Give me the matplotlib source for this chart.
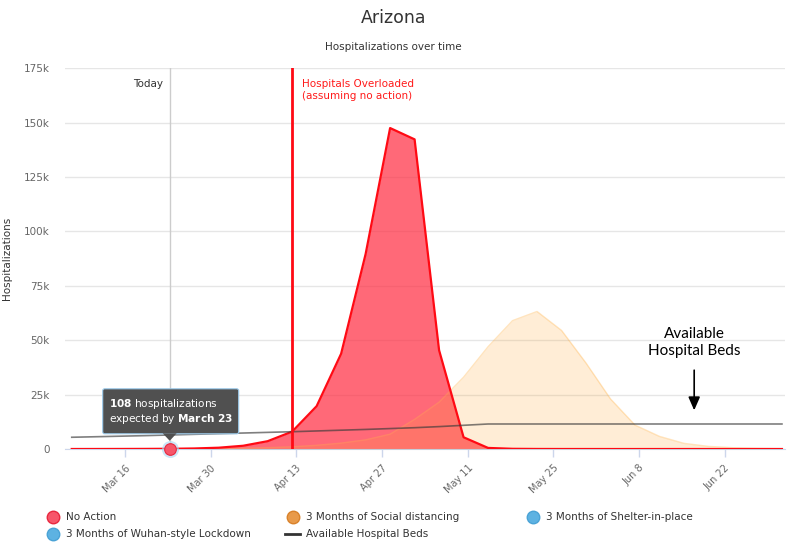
"""Arizona hospitalizations over time: scenario areas, hospital beds line, annotations."""
import matplotlib
matplotlib.use("Agg")
import matplotlib.pyplot as plt
import matplotlib.dates as mdates
import matplotlib.transforms as mtransforms
from matplotlib.patches import FancyBboxPatch, Polygon
from matplotlib.lines import Line2D
import pandas as pd

# --- Data (one point every 4 days) ---
dates = pd.date_range("2020-03-07 08:00", periods=30, freq="4D")

no_action = [10, 20, 35, 60, 108, 250, 600, 1500, 3600, 8000,
             19700, 43800, 89600, 147500, 142300, 45400, 5400, 500, 100, 30,
             10, 5, 0, 0, 0, 0, 0, 0, 0, 0]
social_distancing = [5, 10, 20, 40, 70, 120, 200, 350, 600, 1000,
                     1700, 2700, 4200, 6800, 13600, 21500, 33000, 47000, 59000, 63200,
                     54500, 39500, 23000, 11000, 5800, 2600, 1200, 600, 300, 150]
shelter_in_place = [5, 10, 20, 35, 60, 90, 120, 150, 170, 180,
                    180, 170, 160, 150, 140, 130, 120, 110, 100, 95,
                    90, 90, 95, 100, 110, 120, 140, 160, 190, 230]
wuhan_lockdown = [5, 10, 20, 35, 55, 75, 90, 100, 100, 95,
                  85, 75, 65, 55, 45, 40, 35, 30, 25, 20,
                  20, 20, 20, 25, 25, 30, 35, 40, 45, 50]
hospital_beds = [5400, 5650, 5900, 6150, 6450, 6750, 7050, 7350, 7650, 7950,
                 8300, 8650, 9000, 9400, 9800, 10300, 10900, 11500, 11500, 11500,
                 11500, 11500, 11500, 11500, 11500, 11500, 11500, 11500, 11500, 11500]

today = pd.Timestamp("2020-03-23 08:00")
overloaded = pd.Timestamp("2020-04-12 08:00")
tick_dates = pd.date_range("2020-03-16", "2020-06-22", freq="14D")
y_ticks = [0, 25000, 50000, 75000, 100000, 125000, 150000, 175000]
y_labels = ["0", "25k", "50k", "75k", "100k", "125k", "150k", "175k"]

legend_items = [
    ("No Action", "#f7566a", "#e8283f", "o"),
    ("3 Months of Social distancing", "#e89a4a", "#d9822b", "o"),
    ("3 Months of Shelter-in-place", "#5db2e2", "#4aa3d6", "o"),
    ("3 Months of Wuhan-style Lockdown", "#5db2e2", "#4aa3d6", "o"),
    ("Available Hospital Beds", "#333333", "#333333", "line"),
]

plt.rcParams["font.family"] = ["DejaVu Sans"]

fig = plt.figure(figsize=(8, 5.5), dpi=100)
ax = fig.add_axes([0.081, 0.1836, 0.9, 0.6924])

# Areas
ax.fill_between(dates, no_action, color="#ff2a3f", alpha=0.7, lw=0, zorder=2)
ax.fill_between(dates, social_distancing, color="#ffa532", alpha=0.2, lw=0, zorder=3)
ax.plot(dates, social_distancing, color="#ffb347", alpha=0.35, lw=1, zorder=3)
ax.fill_between(dates, shelter_in_place, color="#7cc4ee", alpha=0.3, lw=0, zorder=3)
ax.fill_between(dates, wuhan_lockdown, color="#7cc4ee", alpha=0.3, lw=0, zorder=3)
ax.plot(dates, no_action, color="#ff0a14", lw=1.6, zorder=4)

# Beds line
ax.plot(dates, hospital_beds, color="#3a3a3a", alpha=0.65, lw=1.2, zorder=5)

# Vertical markers
ax.axvline(today, color="#cccccc", lw=1, zorder=1)
ax.axvline(overloaded, color="#ff0a14", lw=2, zorder=6)
ax.annotate("Today", (today, 175000), xytext=(-5, -8), textcoords="offset points",
            ha="right", va="top", fontsize=7.5, color="#333333")
ax.annotate("Hospitals Overloaded\n(assuming no action)", (overloaded, 175000),
            xytext=(7, -8), textcoords="offset points", ha="left", va="top",
            fontsize=7.5, color="#ff1a1a", linespacing=1.25)

# Axes styling
ax.set_xlim(pd.Timestamp("2020-03-16") - pd.Timedelta(days=9.8),
            pd.Timestamp("2020-03-16") + pd.Timedelta(days=107.8))
ax.set_ylim(0, 175000)
ax.set_yticks(y_ticks)
ax.set_yticklabels(y_labels)
ax.set_xticks(tick_dates)
ax.xaxis.set_major_formatter(mdates.DateFormatter("%b %-d"))
for lab in ax.get_xticklabels():
    lab.set_rotation(45)
    lab.set_ha("right")
    lab.set_rotation_mode("anchor")
ax.tick_params(axis="x", colors="#ccd6eb", length=6, width=1, labelsize=7, labelcolor="#666666", pad=4)
ax.tick_params(axis="y", length=0, labelsize=7.5, labelcolor="#666666", pad=11)
ax.grid(axis="y", color="#e6e6e6", lw=1)
ax.set_axisbelow(True)
for side in ["top", "right", "left"]:
    ax.spines[side].set_visible(False)
ax.spines["bottom"].set_color("#ccd6eb")
ax.set_ylabel("Hospitalizations", fontsize=7.5, color="#333333", labelpad=8)

# Highlighted point at Mar 23
ax.scatter([dates[4]], [no_action[4]], s=150, color="#a9d6f2", alpha=0.6, lw=0, zorder=7, clip_on=False)
ax.scatter([dates[4]], [no_action[4]], s=70, color="#f7566a", edgecolor="#e8283f", lw=0.8,
           zorder=8, clip_on=False)

# Tooltip box anchored to the point (pixel offsets)
fig.canvas.draw()
px, py = ax.transData.transform((mdates.date2num(dates[4]), no_action[4]))
off = mtransforms.Affine2D().translate(px, py)
box = FancyBboxPatch((-67, 15), 136, 45, boxstyle="round,pad=0,rounding_size=2",
                     transform=off, facecolor="#505050", edgecolor="#9ccbec", lw=0.8,
                     zorder=9, clip_on=False)
fig.add_artist(box)
fig.add_artist(Polygon([(-7, 15.5), (7, 15.5), (0, 8)], closed=True, transform=off,
                       facecolor="#505050", edgecolor="none", zorder=10))
t1 = fig.text(px - 61, py + 45, r"$\mathbf{108}$ hospitalizations", color="white", fontsize=7.6,
              va="center", ha="left", zorder=11)
t2 = fig.text(px - 61, py + 30, r"expected by $\mathbf{March\ 23}$", color="white", fontsize=7.6,
              va="center", ha="left", zorder=11)
t1.set_transform(mtransforms.IdentityTransform())
t2.set_transform(mtransforms.IdentityTransform())

# Available beds callout
ax.annotate("", xy=(pd.Timestamp("2020-06-17"), 16500), xytext=(pd.Timestamp("2020-06-17"), 37500),
            arrowprops=dict(arrowstyle="-|>,head_width=0.35,head_length=0.8", color="black", lw=1.2),
            zorder=9)
ax.text(pd.Timestamp("2020-06-17"), 49000, "Available\nHospital Beds", ha="center", va="center",
        fontsize=11, family=["Lato", "DejaVu Sans"], color="black", linespacing=1.3)

# Titles
fig.text(0.492, 0.967, "Arizona", ha="center", va="center", fontsize=12.5, color="#333333")
fig.text(0.492, 0.915, "Hospitalizations over time", ha="center", va="center", fontsize=7.5,
         color="#333333")

# Legend (row-major like the source)
col_x = [0.0825, 0.3825, 0.6825]
row_y = [0.06, 0.029]
for i, (name, fc, ec, kind) in enumerate(legend_items):
    r, c = divmod(i, 3)
    x, y = col_x[c], row_y[r]
    if kind == "line":
        fig.add_artist(Line2D([x - 0.026, x - 0.008], [y, y], color=fc, lw=2, transform=fig.transFigure))
    else:
        fig.add_artist(Line2D([x - 0.0165], [y], marker="o", markersize=9, markerfacecolor=fc,
                              markeredgecolor=ec, markeredgewidth=1, linestyle="",
                              transform=fig.transFigure))
    fig.text(x, y, name, ha="left", va="center", fontsize=7.5, color="#333333")

fig.savefig("out.png", dpi=100)
